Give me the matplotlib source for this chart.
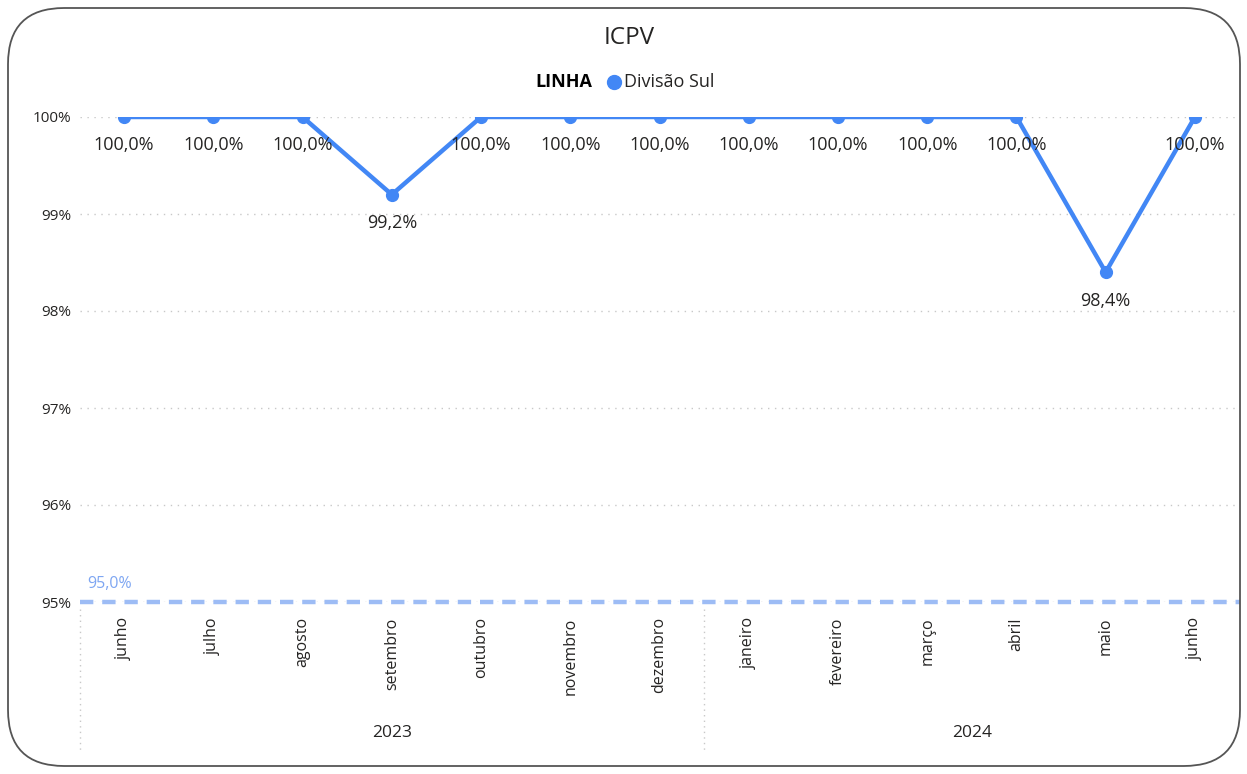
import numpy as np
import matplotlib.pyplot as plt
from matplotlib.patches import FancyBboxPatch

plt.rcParams['font.family'] = ['Open Sans', 'DejaVu Sans']

# data
months = ['junho', 'julho', 'agosto', 'setembro', 'outubro', 'novembro', 'dezembro',
          'janeiro', 'fevereiro', 'março', 'abril', 'maio', 'junho']
years = ['2023', '2024']
year_counts = [7, 6]
icpv = [100.0, 100.0, 100.0, 99.2, 100.0, 100.0, 100.0, 100.0, 100.0, 100.0, 100.0, 98.4, 100.0]
meta = 95.0
y_ticks = [95, 96, 97, 98, 99, 100]

line_color = '#4287f5'
meta_color = '#9dbcf5'
text_color = '#252423'

fig = plt.figure(figsize=(12.47, 7.74), dpi=100)
W, H = 1247, 774

# rounded card border
card = FancyBboxPatch((8 / W, 8 / H), (1240 - 8) / W, (766 - 8) / H,
                      boxstyle="round,pad=0,rounding_size=0.045",
                      transform=fig.transFigure, fill=False,
                      edgecolor='#555555', linewidth=1.3, mutation_aspect=W / H)
fig.patches.append(card)

ax = fig.add_axes([79.5 / W, 1 - 602 / H, (1239.5 - 79.5) / W, (602 - 117) / H])
x = np.arange(len(months))

for t in y_ticks:
    ax.axhline(t, color='#c8c8c8', linestyle=(0, (1, 4)), linewidth=1, zorder=0)

ax.axhline(meta, color=meta_color, linestyle=(0, (3, 2)), linewidth=3.2, zorder=1, clip_on=False)
ax.text(0.007, meta + 0.1, f"{meta:.1f}".replace('.', ',') + '%', color='#7ea6f2',
        fontsize=11.5, transform=ax.get_yaxis_transform(), va='bottom', ha='left')

ax.plot(x, icpv, color=line_color, linewidth=3.2, marker='o', markersize=8.5, zorder=3)

for xi, v in zip(x, icpv):
    ax.annotate(f"{v:.1f}".replace('.', ',') + '%', (xi, v), xytext=(0, -20.5),
                textcoords='offset points', ha='center', va='center',
                fontsize=13, color=text_color, zorder=4)

ax.set_xlim(-0.5, len(months) - 0.5)
ax.set_ylim(95, 100)
ax.set_yticks(y_ticks)
ax.set_yticklabels([f"{t}%" for t in y_ticks], fontsize=11, color=text_color)
ax.set_xticks(x)
ax.set_xticklabels(months, rotation=90, fontsize=11.5, color=text_color, va='top')
ax.tick_params(axis='both', length=0)
ax.tick_params(axis='x', pad=11)
ax.tick_params(axis='y', pad=6)
for s in ax.spines.values():
    s.set_visible(False)

# year grouping
start = 0
sep_tr = ax.get_xaxis_transform()
for yr, n in zip(years, year_counts):
    ax.text(start + (n - 1) / 2, -0.27, yr, transform=sep_tr, ha='center', va='center',
            fontsize=12.5, color=text_color)
    ax.plot([start - 0.5, start - 0.5], [-0.015, -0.305], transform=sep_tr,
            color='#c8c8c8', linestyle=(0, (1, 3)), linewidth=1, clip_on=False)
    start += n

# title and legend
fig.text(629 / W, 1 - 38 / H, 'ICPV', ha='center', va='center', fontsize=17.5, color=text_color)
fig.text(535 / W, 1 - 82 / H, 'LINHA', ha='left', va='center', fontsize=13,
         fontweight='bold', color='#000000')
fig.lines.append(plt.Line2D([614 / W], [1 - 82 / H], marker='o', markersize=10,
                            color=line_color, transform=fig.transFigure))
fig.text(624 / W, 1 - 82 / H, 'Divisão Sul', ha='left', va='center', fontsize=13,
         color=text_color)

plt.savefig('out.png', dpi=100)
